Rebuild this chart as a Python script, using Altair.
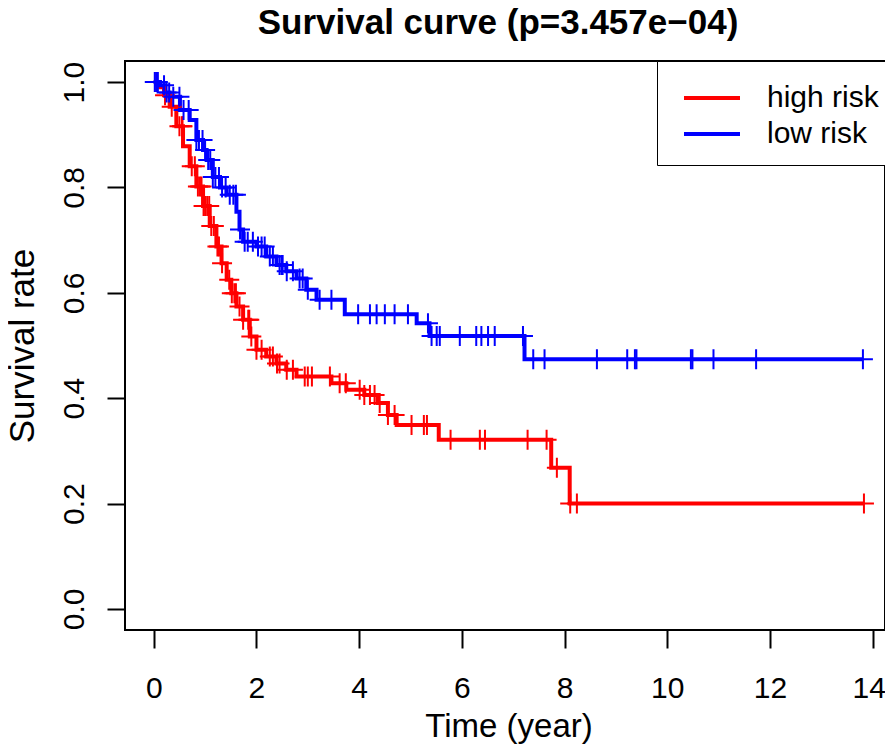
import altair as alt
import pandas as pd
import numpy as np

groups = ["high risk", "low risk"]
colors = ["#FF0000", "#0000FF"]

# Kaplan-Meier step points (time in years, survival after the step)
high_t = [0, 0.12, 0.2, 0.31, 0.44, 0.57, 0.70, 0.83, 0.96, 1.09, 1.22, 1.32, 1.42, 1.51,
          1.61, 1.74, 1.87, 2.0, 2.19, 2.39, 2.58, 2.78, 3.46, 3.75, 4.1, 4.36, 4.56, 4.73,
          5.55, 7.74, 8.10]
high_s = [1.0, 0.99, 0.975, 0.953, 0.916, 0.878, 0.840, 0.802, 0.765, 0.727, 0.688, 0.656,
          0.625, 0.599, 0.574, 0.549, 0.517, 0.492, 0.479, 0.466, 0.454, 0.441, 0.4285, 0.416,
          0.406, 0.391, 0.368, 0.349, 0.321, 0.268, 0.2]
high_end = 13.83
high_censor = [0.05, 0.22, 0.35, 0.5, 0.55, 0.56, 0.74, 0.8, 0.86, 0.9, 0.93, 0.97, 1.0, 1.04,
               1.08, 1.12, 1.17, 1.24, 1.27, 1.33, 1.47, 1.52, 1.57, 1.6, 1.67, 1.74, 1.84,
               1.86, 1.9, 2.0, 2.1, 2.26, 2.32, 2.40, 2.45, 2.59, 2.71, 2.94, 3.0, 3.08, 3.43,
               3.62, 3.74, 4.01, 4.1, 4.21, 4.3, 4.4, 4.56, 4.69, 5.02, 5.26, 5.32, 5.78, 6.35,
               6.45, 7.28, 7.65, 7.85, 8.11, 8.24, 13.83]

low_t = [0, 0.12, 0.21, 0.31, 0.51, 0.70, 0.83, 0.96, 1.03, 1.15, 1.29, 1.42, 1.61, 1.67,
         1.74, 2.0, 2.19, 2.39, 2.58, 2.78, 2.97, 3.17, 3.72, 5.12, 5.37, 7.22]
low_s = [1.0, 0.994, 0.98, 0.972, 0.947, 0.928, 0.890, 0.871, 0.852, 0.82, 0.80, 0.786, 0.754,
         0.72, 0.697, 0.688, 0.669, 0.653, 0.641, 0.627, 0.606, 0.587, 0.5595, 0.542, 0.518,
         0.474]
low_end = 13.81
low_censor = [0.02, 0.05, 0.08, 0.2, 0.25, 0.3, 0.38, 0.5, 0.58, 0.68, 0.83, 0.88, 0.95, 1.0,
              1.06, 1.1, 1.15, 1.2, 1.27, 1.33, 1.4, 1.48, 1.55, 1.6, 1.68, 1.77, 1.83, 1.93,
              2.03, 2.1, 2.16, 2.26, 2.32, 2.45, 2.49, 2.51, 2.59, 2.71, 2.84, 2.9, 3.0, 3.23,
              3.46, 3.98, 4.21, 4.34, 4.5, 4.69, 4.95, 5.34, 5.41, 5.51, 5.57, 5.96, 6.28,
              6.38, 6.51, 6.64, 7.19, 7.39, 7.61, 8.63, 9.22, 9.37, 9.4, 10.46, 10.49, 10.9,
              11.73, 13.81]

x_ticks = [0, 2, 4, 6, 8, 10, 12, 14]
y_ticks = [0.0, 0.2, 0.4, 0.6, 0.8, 1.0]


def build(name, ts, ss, end, cens):
    steps = pd.DataFrame({"t": ts + [end], "s": ss + [ss[-1]], "group": name})
    steps["ord"] = range(len(steps))
    idx = np.searchsorted(np.array(ts), np.array(cens), side="right") - 1
    marks = pd.DataFrame({"t": cens, "s": np.array(ss)[idx], "group": name})
    return steps, marks


hs, hm = build(groups[0], high_t, high_s, high_end, high_censor)
ls, lm = build(groups[1], low_t, low_s, low_end, low_censor)
steps = pd.concat([hs, ls], ignore_index=True)
marks = pd.concat([hm, lm], ignore_index=True)

FONT = "Liberation Sans"

xscale = alt.Scale(domain=[-0.56, 14.24], nice=False, zero=False)
yscale = alt.Scale(domain=[-0.04, 1.04], nice=False, zero=False)

xaxis = alt.Axis(values=x_ticks, tickSize=18, tickWidth=2, tickColor="black", domain=False,
                 grid=False, labelFont=FONT, labelFontSize=30, labelColor="black",
                 labelBaseline="alphabetic", labelPadding=49, labelFlush=False,
                 labelOffset={"condition": {"test": "datum.value == 14", "value": -4},
                              "value": 0},
                 title="Time (year)", titleFont=FONT, titleFontSize=33,
                 titleFontWeight="normal", titleColor="black", titleBaseline="alphabetic",
                 titleY=106, titleX=383.5)
yaxis = alt.Axis(values=y_ticks, format=".1f", tickSize=18, tickWidth=2, tickColor="black",
                 domain=False, grid=False, labelFont=FONT, labelFontSize=30,
                 labelColor="black", labelAngle=270, labelAlign="center",
                 labelBaseline="alphabetic", labelPadding=24, labelFlush=False,
                 title="Survival rate", titleFont=FONT, titleFontSize=35,
                 titleFontWeight="normal", titleColor="black", titleAngle=270,
                 titleAlign="center", titleBaseline="alphabetic", titleX=-92, titleY=284.5)

color = alt.Color(
    "group:N",
    scale=alt.Scale(domain=groups, range=colors),
    legend=alt.Legend(title=None, orient="none", legendX=532, legendY=0,
                      symbolType="M-0.526,0H2.421", symbolSize=1444, symbolStrokeWidth=4,
                      labelFont=FONT, labelFontSize=30, labelColor="black", labelOffset=52,
                      padding=16, strokeColor="black", fillColor="white", rowPadding=0,
                      labelLimit=0),
)

lines = alt.Chart(steps).mark_line(interpolate="step-after", strokeWidth=4, clip=True).encode(
    x=alt.X("t:Q", scale=xscale, axis=xaxis),
    y=alt.Y("s:Q", scale=yscale, axis=yaxis),
    color=color,
    order="ord:Q",
)

pts = alt.Chart(marks).mark_point(shape="M-1,0L1,0M0,-1L0,1", size=400, strokeWidth=2,
                                  filled=False, opacity=1, clip=True).encode(
    x=alt.X("t:Q", scale=xscale),
    y=alt.Y("s:Q", scale=yscale),
    color=alt.Color("group:N", scale=alt.Scale(domain=groups, range=colors), legend=None),
)

chart = alt.layer(lines, pts).properties(
    width=760, height=569,
    autosize="none",
    padding={"left": 117, "top": 53, "right": 0, "bottom": 114},
    title=alt.TitleParams("Survival curve (p=3.457e\u221204)", font=FONT, fontSize=35,
                          fontWeight="bold", color="black", anchor="middle", frame="group",
                          offset=20, dx=-7),
).configure(background="white").configure_view(stroke="black", strokeWidth=2)

chart.save("out.html", embed_options={"renderer": "svg", "actions": False})
